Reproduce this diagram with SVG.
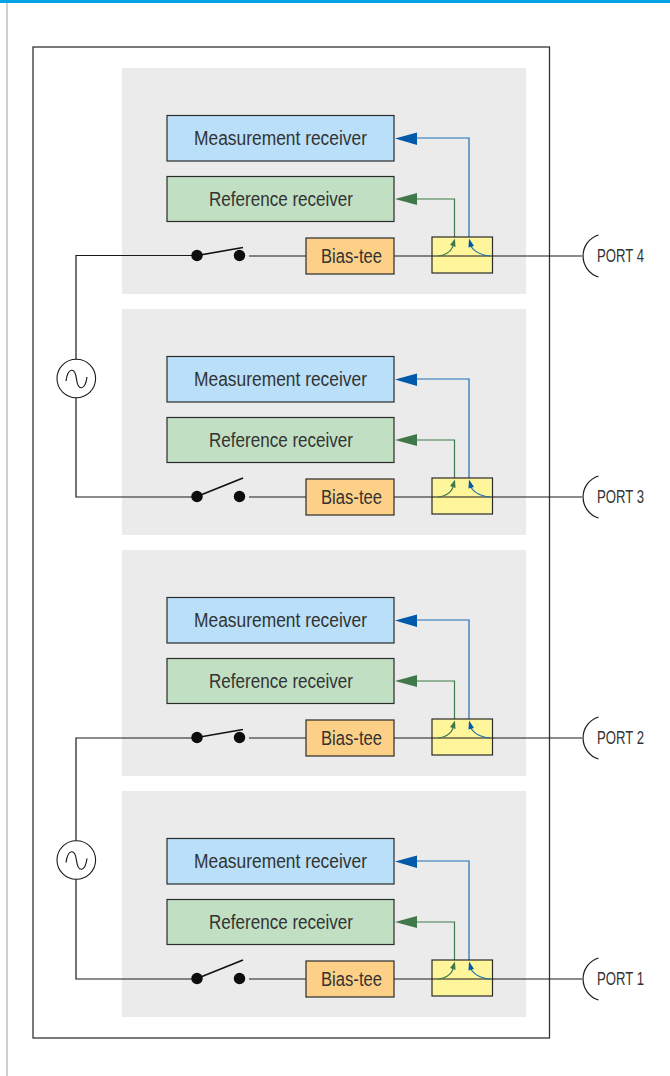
<svg xmlns="http://www.w3.org/2000/svg" width="670" height="1076" viewBox="0 0 670 1076">
<style>
.panel{fill:#ebebeb}
.wire{fill:none;stroke:#1a1a1a;stroke-width:1.2}
.box{stroke:#2b2b2b;stroke-width:1.2}
.meas{fill:#b9e0f8}
.ref{fill:#c0dfc3}
.bias{fill:#fdd088}
.coup{fill:#fff59b}
.blue{fill:none;stroke:#1d6fb5;stroke-width:1.2}
.green{fill:none;stroke:#3f7a4a;stroke-width:1.2}
.ah-b{fill:#0059a9}
.ah-g{fill:#41784a}
.dot{fill:#0d0d0d}
.lever{fill:none;stroke:#111;stroke-width:1.7}
text{font-family:"Liberation Sans",Arial,sans-serif;font-size:20px;fill:#333}
.port{font-size:19px}
</style>
<rect x="0" y="0" width="670" height="3" fill="#00a3e4"/>
<rect x="6" y="3" width="2" height="1073" fill="#c9d1d5"/>
<rect id="frame" x="33" y="47" width="516.500" height="991" fill="#fff" stroke="#333" stroke-width="1.3"/>
<g id="panels">
<rect class="panel" x="122" y="68" width="404" height="226"/>
<rect class="panel" x="122" y="309" width="404" height="226"/>
<rect class="panel" x="122" y="550" width="404" height="226"/>
<rect class="panel" x="122" y="791" width="404" height="226"/>
</g>
<g id="connectors">
<path class="wire" d="M197 255.500H76V360M76 398V497H197"/>
<path class="wire" d="M197 738H76V841M76 879V979H197"/>
<path class="wire" d="M249 256H306M394 256H582"/>
<path class="wire" d="M249 497H306M394 497H582"/>
<path class="wire" d="M249 738H306M394 738H582"/>
<path class="wire" d="M249 979H306M394 979H582"/>
<path class="green" d="M416 199H454.500V237"/><path class="blue" d="M416 138H469V237"/>
<path class="green" d="M416 440H454.500V478"/><path class="blue" d="M416 379H469V478"/>
<path class="green" d="M416 681H454.500V719"/><path class="blue" d="M416 620H469V719"/>
<path class="green" d="M416 922H454.500V960"/><path class="blue" d="M416 861H469V960"/>
</g>
<g id="panel4">
<g id="meas4"><rect class="box meas" x="167" y="115.500" width="227" height="45.500"/><text x="194" y="144.700" textLength="173" lengthAdjust="spacingAndGlyphs">Measurement receiver</text></g>
<g id="ref4"><rect class="box ref" x="167" y="176.500" width="227" height="45"/><text x="209" y="205.700" textLength="144" lengthAdjust="spacingAndGlyphs">Reference receiver</text></g>
<g id="bias4"><rect class="box bias" x="306" y="238" width="88" height="36"/><text x="321" y="262.700" textLength="61" lengthAdjust="spacingAndGlyphs">Bias-tee</text></g>
<g id="coupler4"><rect class="box coup" x="432" y="237" width="60.500" height="36"/><path class="wire" d="M432 256H492.500"/><path class="green" d="M438 256C447 255 453 250 454 242"/><path class="blue" d="M490 256C479 255 471 250 469.500 242"/><path class="ah-g" d="M455 238.500L455.500 247L450 245Z"/><path class="ah-b" d="M469 238.500L474 246L468.500 247.500Z"/></g>
<g id="switch4"><circle class="dot" cx="197" cy="255.500" r="5.700"/><circle class="dot" cx="239.500" cy="255.500" r="5.700"/><path class="lever" d="M197 255.500L243 247.500"/></g>
<path class="ah-b" d="M395 138.500L417 132.500V145Z"/><path class="ah-g" d="M395 199L417 193V205Z"/>
</g>
<g id="panel3">
<g id="meas3"><rect class="box meas" x="167" y="356.500" width="227" height="45.500"/><text x="194" y="385.700" textLength="173" lengthAdjust="spacingAndGlyphs">Measurement receiver</text></g>
<g id="ref3"><rect class="box ref" x="167" y="417.500" width="227" height="45"/><text x="209" y="446.700" textLength="144" lengthAdjust="spacingAndGlyphs">Reference receiver</text></g>
<g id="bias3"><rect class="box bias" x="306" y="479" width="88" height="36"/><text x="321" y="503.700" textLength="61" lengthAdjust="spacingAndGlyphs">Bias-tee</text></g>
<g id="coupler3"><rect class="box coup" x="432" y="478" width="60.500" height="36"/><path class="wire" d="M432 497H492.500"/><path class="green" d="M438 497C447 496 453 491 454 483"/><path class="blue" d="M490 497C479 496 471 491 469.500 483"/><path class="ah-g" d="M455 479.500L455.500 488L450 486Z"/><path class="ah-b" d="M469 479.500L474 487L468.500 488.500Z"/></g>
<g id="switch3"><circle class="dot" cx="197" cy="496.500" r="5.700"/><circle class="dot" cx="239.500" cy="496.500" r="5.700"/><path class="lever" d="M197 496.500L243 478"/></g>
<path class="ah-b" d="M395 379.500L417 373.500V386Z"/><path class="ah-g" d="M395 440L417 434V446Z"/>
</g>
<g id="panel2">
<g id="meas2"><rect class="box meas" x="167" y="597.500" width="227" height="45.500"/><text x="194" y="626.700" textLength="173" lengthAdjust="spacingAndGlyphs">Measurement receiver</text></g>
<g id="ref2"><rect class="box ref" x="167" y="658.500" width="227" height="45"/><text x="209" y="687.700" textLength="144" lengthAdjust="spacingAndGlyphs">Reference receiver</text></g>
<g id="bias2"><rect class="box bias" x="306" y="720" width="88" height="36"/><text x="321" y="744.700" textLength="61" lengthAdjust="spacingAndGlyphs">Bias-tee</text></g>
<g id="coupler2"><rect class="box coup" x="432" y="719" width="60.500" height="36"/><path class="wire" d="M432 738H492.500"/><path class="green" d="M438 738C447 737 453 732 454 724"/><path class="blue" d="M490 738C479 737 471 732 469.500 724"/><path class="ah-g" d="M455 720.500L455.500 729L450 727Z"/><path class="ah-b" d="M469 720.500L474 728L468.500 729.500Z"/></g>
<g id="switch2"><circle class="dot" cx="197" cy="737.500" r="5.700"/><circle class="dot" cx="239.500" cy="737.500" r="5.700"/><path class="lever" d="M197 737.500L243 729.500"/></g>
<path class="ah-b" d="M395 620.500L417 614.500V627Z"/><path class="ah-g" d="M395 681L417 675V687Z"/>
</g>
<g id="panel1">
<g id="meas1"><rect class="box meas" x="167" y="838.500" width="227" height="45.500"/><text x="194" y="867.700" textLength="173" lengthAdjust="spacingAndGlyphs">Measurement receiver</text></g>
<g id="ref1"><rect class="box ref" x="167" y="899.500" width="227" height="45"/><text x="209" y="928.700" textLength="144" lengthAdjust="spacingAndGlyphs">Reference receiver</text></g>
<g id="bias1"><rect class="box bias" x="306" y="961" width="88" height="36"/><text x="321" y="985.700" textLength="61" lengthAdjust="spacingAndGlyphs">Bias-tee</text></g>
<g id="coupler1"><rect class="box coup" x="432" y="960" width="60.500" height="36"/><path class="wire" d="M432 979H492.500"/><path class="green" d="M438 979C447 978 453 973 454 965"/><path class="blue" d="M490 979C479 978 471 973 469.500 965"/><path class="ah-g" d="M455 961.500L455.500 970L450 968Z"/><path class="ah-b" d="M469 961.500L474 969L468.500 970.500Z"/></g>
<g id="switch1"><circle class="dot" cx="197" cy="978.500" r="5.700"/><circle class="dot" cx="239.500" cy="978.500" r="5.700"/><path class="lever" d="M197 978.500L243 960"/></g>
<path class="ah-b" d="M395 861.500L417 855.500V868Z"/><path class="ah-g" d="M395 922L417 916V928Z"/>
</g>
<g id="source-top"><circle cx="76.300" cy="378.500" r="19.300" fill="#fff" stroke="#1a1a1a" stroke-width="1.1"/><path class="wire" d="M66 381C68 367 75 367 76.500 379C78 391 85 391 87 377"/></g>
<g id="source-bottom"><circle cx="76.300" cy="860" r="19.300" fill="#fff" stroke="#1a1a1a" stroke-width="1.1"/><path class="wire" d="M66 862.500C68 848.500 75 848.500 76.500 860.500C78 872.500 85 872.500 87 858.500"/></g>
<g id="port4"><path class="wire" d="M598.500 235A22 22 0 0 0 598.500 277"/><text class="port" x="597" y="262" textLength="47" lengthAdjust="spacingAndGlyphs">PORT 4</text></g>
<g id="port3"><path class="wire" d="M598.500 476A22 22 0 0 0 598.500 518"/><text class="port" x="597" y="503" textLength="47" lengthAdjust="spacingAndGlyphs">PORT 3</text></g>
<g id="port2"><path class="wire" d="M598.500 717A22 22 0 0 0 598.500 759"/><text class="port" x="597" y="744" textLength="47" lengthAdjust="spacingAndGlyphs">PORT 2</text></g>
<g id="port1"><path class="wire" d="M598.500 958A22 22 0 0 0 598.500 1000"/><text class="port" x="597" y="985" textLength="47" lengthAdjust="spacingAndGlyphs">PORT 1</text></g>
</svg>
